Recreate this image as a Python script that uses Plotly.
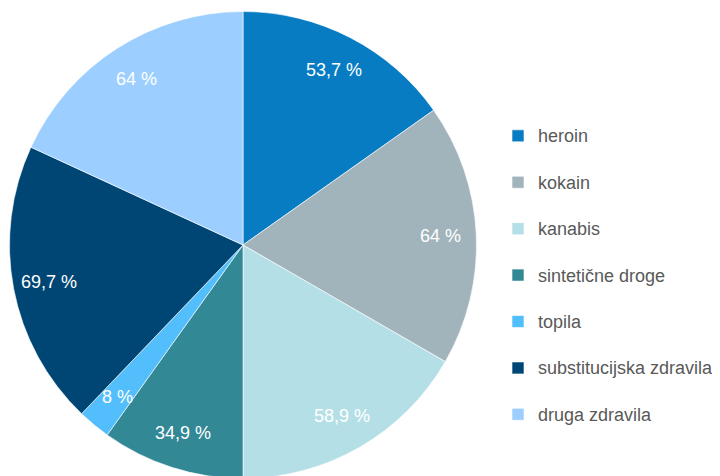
import math
import plotly.graph_objects as go

categories = ["heroin", "kokain", "kanabis", "sintetične droge", "topila",
              "substitucijska zdravila", "druga zdravila"]
values = [53.7, 64, 58.9, 34.9, 8, 69.7, 64]
colors = ["#077CC3", "#A2B4BB", "#B5DFE7", "#338896", "#52BEFC", "#004675", "#9CCFFF"]

W, H = 720, 476
# page is offset by the browser's 8px body margin
dom_x = [1.5 / W, 468.5 / W]
dom_y = [5.5 / H, 472.5 / H]

texts = [f"{v:g}".replace(".", ",") + " %" for v in values]
legend_names = ["<span style='font-size:18px'>" + c + "</span><br> " for c in categories]

fig = go.Figure(go.Pie(
    labels=legend_names,
    values=values,
    textinfo="none",
    sort=False,
    direction="clockwise",
    rotation=0,
    marker=dict(colors=colors, line=dict(color="white", width=0.6)),
    domain=dict(x=dom_x, y=dom_y),
    hovertext=[c + ": " + t for c, t in zip(categories, texts)],
    hoverinfo="text",
))

# data labels placed on each slice's mid angle
total = sum(values)
cx = (dom_x[0] + dom_x[1]) / 2
cy = (dom_y[0] + dom_y[1]) / 2
R_px = (dom_y[1] - dom_y[0]) * H / 2
r_lab = 0.845 * R_px
cum = 0.0
annotations = []
for v, t in zip(values, texts):
    mid = (cum + v / 2) / total * 2 * math.pi
    cum += v
    annotations.append(dict(
        x=cx + r_lab * math.sin(mid) / W,
        y=cy + r_lab * math.cos(mid) / H,
        xref="paper", yref="paper",
        text=t, showarrow=False,
        xanchor="center", yanchor="middle",
        font=dict(family="Liberation Sans, Arial", size=18, color="white"),
    ))

fig.update_layout(
    width=W, height=H,
    margin=dict(l=0, r=0, t=0, b=0),
    paper_bgcolor="white",
    plot_bgcolor="white",
    showlegend=True,
    annotations=annotations,
    legend=dict(
        x=490 / W, xanchor="left",
        y=0.416, yanchor="middle",
        font=dict(family="Liberation Sans, Arial", size=16.7, color="#595959"),
        valign="top",
        bgcolor="rgba(0,0,0,0)",
    ),
)

fig.write_html("out.html")
